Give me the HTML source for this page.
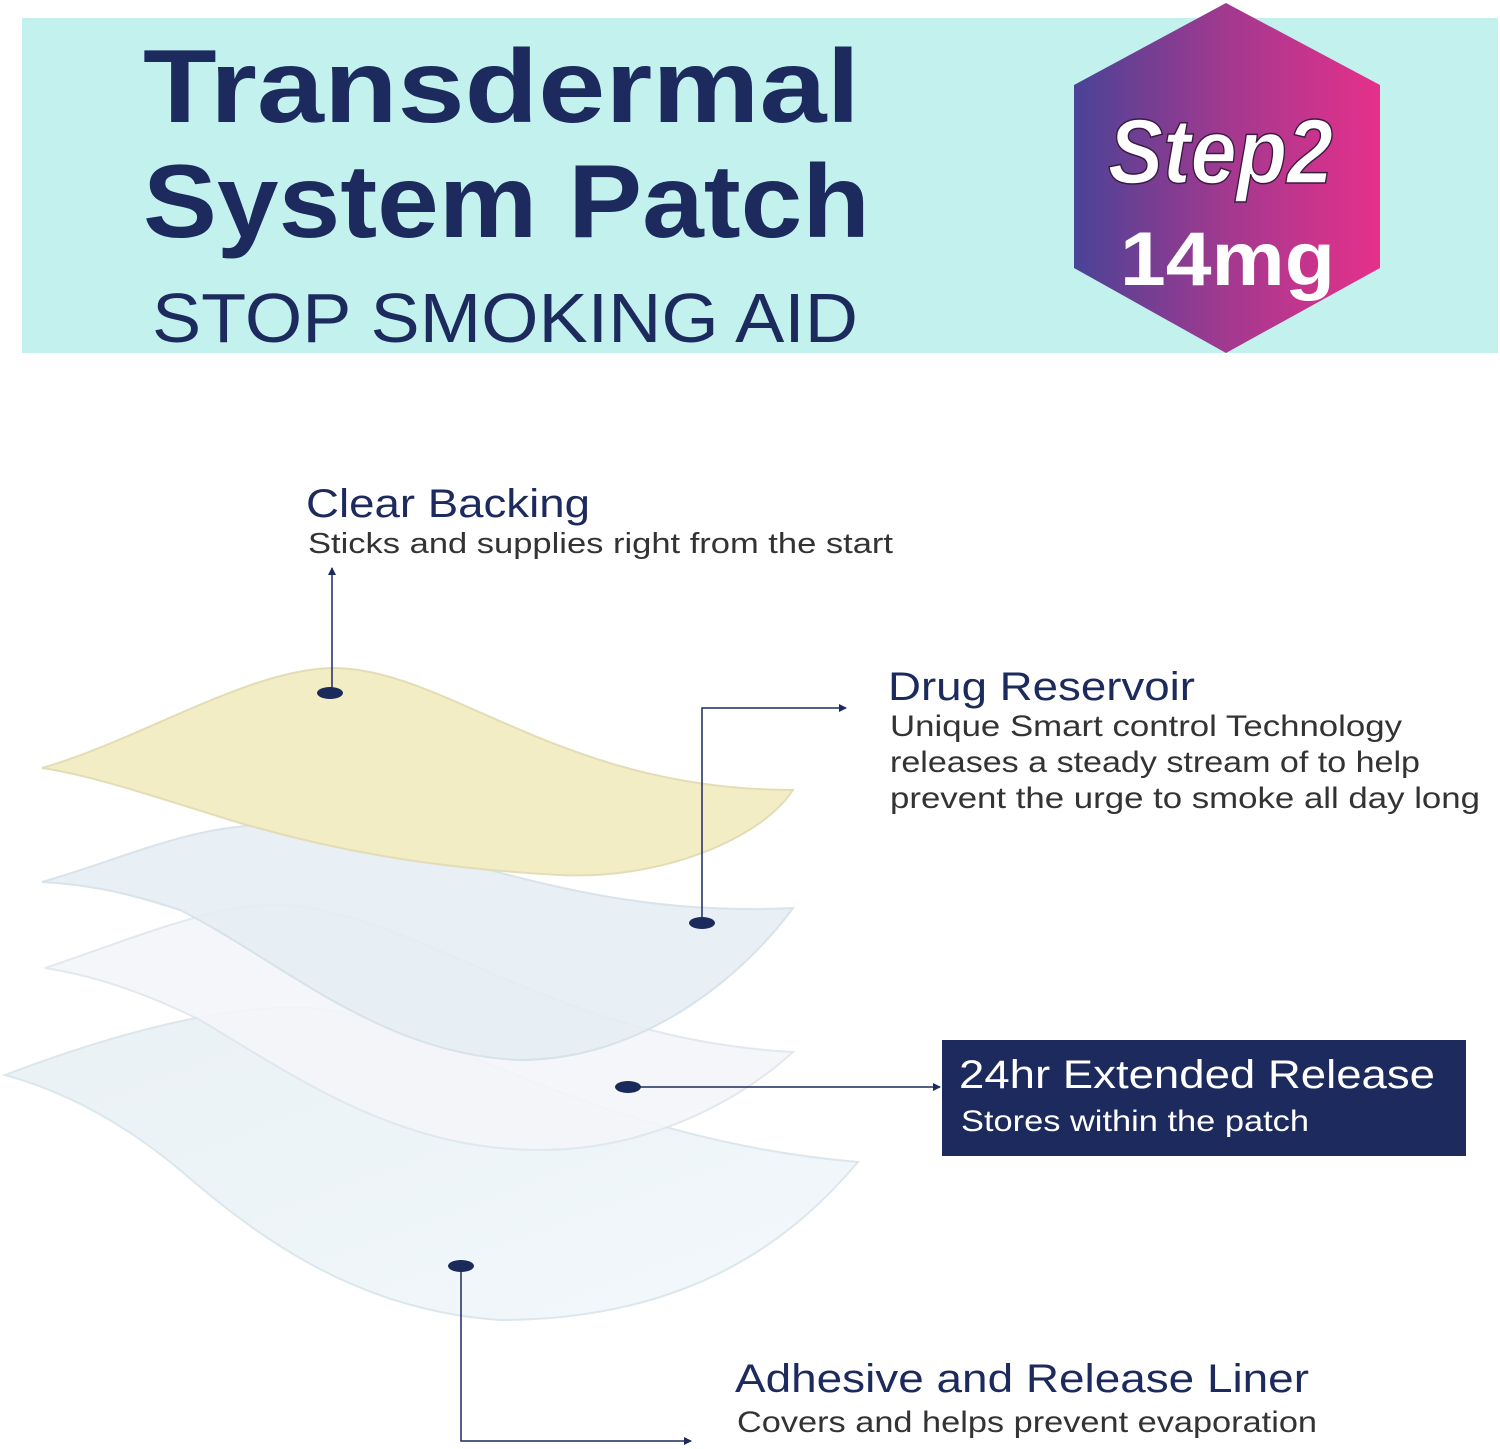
<!DOCTYPE html>
<html><head><meta charset="utf-8"><style>
html,body{margin:0;padding:0;background:#fff;}
svg{display:block;}
text{font-family:"Liberation Sans",sans-serif;}
</style></head><body>
<svg width="1500" height="1449" viewBox="0 0 1500 1449" xmlns="http://www.w3.org/2000/svg">
<defs>
<linearGradient id="hg" x1="0" x2="1" y1="0" y2="0">
<stop offset="0" stop-color="#4a4396"/><stop offset="0.5" stop-color="#a2398f"/><stop offset="1" stop-color="#e6308a"/>
</linearGradient>
<linearGradient id="l4" x1="0" x2="1" y1="0" y2="1">
<stop offset="0" stop-color="#e8f1f5"/><stop offset="1" stop-color="#f3f8fb"/>
</linearGradient>
<marker id="ar" markerWidth="8" markerHeight="8" refX="7" refY="4" orient="auto" markerUnits="userSpaceOnUse">
<path d="M0,0 L8,4 L0,8 z" fill="#1c2a5e"/>
</marker>
</defs>
<rect x="22" y="18" width="1476" height="335" fill="#c2f1ee"/>
<text x="143" y="122" font-size="104" font-weight="bold" fill="#1c2a5e" textLength="717" lengthAdjust="spacingAndGlyphs">Transdermal</text>
<text x="143" y="237" font-size="104" font-weight="bold" fill="#1c2a5e" textLength="727" lengthAdjust="spacingAndGlyphs">System Patch</text>
<text x="152" y="342" font-size="70" fill="#1c2a5e" textLength="706" lengthAdjust="spacingAndGlyphs">STOP SMOKING AID</text>
<polygon points="1226,3 1380,85 1380,268 1226,353 1074,268 1074,85" fill="url(#hg)"/>
<text x="1108" y="183" font-size="92" font-style="italic" font-weight="bold" fill="#fff" font-family="Liberation Serif, serif" stroke="#3a1a40" stroke-width="1.5" textLength="225" lengthAdjust="spacingAndGlyphs">Step2</text>
<text x="1120" y="285" font-size="76" font-weight="bold" fill="#fff" textLength="215" lengthAdjust="spacingAndGlyphs">14mg</text>

<!-- layers -->
<path d="M5,1075 C150,1020 260,1000 330,1010 C450,1030 600,1140 858,1162 C800,1230 700,1320 500,1320 C350,1310 250,1230 180,1170 C120,1120 60,1090 5,1075 Z" fill="url(#l4)" stroke="#dbe6ec" stroke-width="2" opacity="0.95"/>
<path d="M45,968 C130,940 220,900 290,905 C430,920 560,1040 793,1052 C740,1100 650,1150 540,1150 C400,1150 300,1080 200,1020 C140,990 90,975 45,968 Z" fill="#f4f6f9" stroke="#dfe6ec" stroke-width="2" opacity="0.9"/>
<path d="M42,882 C120,860 190,825 270,825 C420,830 560,920 793,908 C740,980 640,1060 520,1060 C380,1055 280,960 180,910 C120,890 80,884 42,882 Z" fill="#e6eef4" stroke="#d5e0e8" stroke-width="2" opacity="0.9"/>
<path d="M42,768 C140,740 250,668 335,668 C450,670 560,790 793,790 C760,840 660,880 560,875 C430,868 330,850 230,820 C150,795 90,775 42,768 Z" fill="#f3edc5" stroke="#e3ddb6" stroke-width="2"/>

<!-- connectors -->
<line x1="332" y1="690" x2="332" y2="568" stroke="#1c2a5e" stroke-width="1.5" marker-end="url(#ar)"/>
<polyline points="702,923 702,708 846,708" fill="none" stroke="#1c2a5e" stroke-width="1.5" marker-end="url(#ar)"/>
<line x1="628" y1="1087" x2="940" y2="1087" stroke="#1c2a5e" stroke-width="1.5" marker-end="url(#ar)"/>
<polyline points="461,1266 461,1441 691,1441" fill="none" stroke="#1c2a5e" stroke-width="1.5" marker-end="url(#ar)"/>
<ellipse cx="330" cy="693" rx="13" ry="6" fill="#1a2a5a"/>
<ellipse cx="702" cy="923" rx="13" ry="6" fill="#1a2a5a"/>
<ellipse cx="628" cy="1087" rx="13" ry="6" fill="#1a2a5a"/>
<ellipse cx="461" cy="1266" rx="13" ry="6" fill="#1a2a5a"/>

<!-- labels -->
<text x="306" y="517" font-size="40" fill="#1c2a5e" textLength="284" lengthAdjust="spacingAndGlyphs">Clear Backing</text>
<text x="308" y="553" font-size="29" fill="#333" textLength="585" lengthAdjust="spacingAndGlyphs">Sticks and supplies right from the start</text>
<text x="888" y="700" font-size="40" fill="#1c2a5e" textLength="307" lengthAdjust="spacingAndGlyphs">Drug Reservoir</text>
<text x="890" y="736" font-size="30" fill="#333" textLength="512" lengthAdjust="spacingAndGlyphs">Unique Smart control Technology</text>
<text x="890" y="772" font-size="30" fill="#333" textLength="530" lengthAdjust="spacingAndGlyphs">releases a steady stream of to help</text>
<text x="890" y="808" font-size="30" fill="#333" textLength="590" lengthAdjust="spacingAndGlyphs">prevent the urge to smoke all day long</text>
<rect x="942" y="1040" width="524" height="116" fill="#1c2a5e"/>
<text x="959" y="1088" font-size="40" fill="#fff" textLength="476" lengthAdjust="spacingAndGlyphs">24hr Extended Release</text>
<text x="961" y="1131" font-size="30" fill="#fff" textLength="348" lengthAdjust="spacingAndGlyphs">Stores within the patch</text>
<text x="735" y="1392" font-size="40" fill="#1c2a5e" textLength="574" lengthAdjust="spacingAndGlyphs">Adhesive and Release Liner</text>
<text x="737" y="1432" font-size="30" fill="#333" textLength="580" lengthAdjust="spacingAndGlyphs">Covers and helps prevent evaporation</text>
</svg>
</body></html>
